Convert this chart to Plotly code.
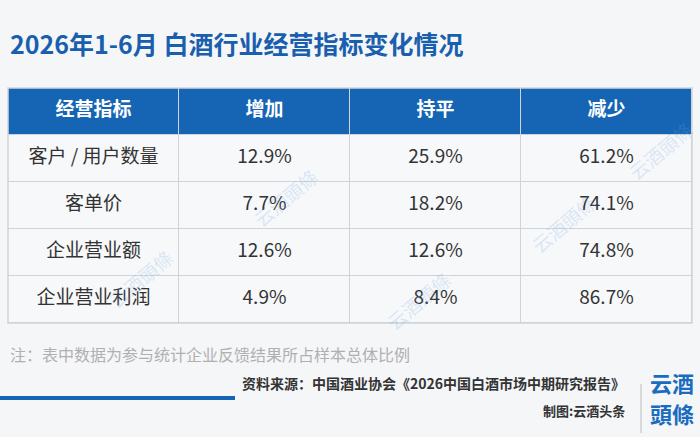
import plotly.graph_objects as go

header = ["经营指标", "增加", "持平", "减少"]
indicators = ["客户 / 用户数量", "客单价", "企业营业额", "企业营业利润"]
increase = ["12.9%", "7.7%", "12.6%", "4.9%"]
flat = ["25.9%", "18.2%", "12.6%", "8.4%"]
decrease = ["61.2%", "74.1%", "74.8%", "86.7%"]

W, H = 700, 437
blue = "#1565b4"
grid = "#cfd3da"
font = "Noto Sans CJK SC"

def py(px):
    return 1 - px / H

columns = [indicators, increase, flat, decrease]
n_rows = len(indicators) + 1
n_cols = len(header)

# cell fills: header row blue, body light
z = [[1] * n_cols] + [[0] * n_cols for _ in indicators]

# cell texts, one point per cell
tx, ty, tt, tc, tw = [], [], [], [], []
for j, h in enumerate(header):
    tx.append(j); ty.append(0); tt.append(h); tc.append("white"); tw.append("bold")
for j, col in enumerate(columns):
    for i, v in enumerate(col):
        tx.append(j); ty.append(i + 1); tt.append(v); tc.append("#333333"); tw.append("normal")

fig = go.Figure()
fig.add_trace(go.Heatmap(z=z, x=list(range(n_cols)), y=list(range(n_rows)),
                         colorscale=[[0, "#f7f8fa"], [1, blue]], zmin=0, zmax=1,
                         showscale=False, xgap=1, ygap=1, hoverinfo="skip"))
fig.add_trace(go.Scatter(x=tx, y=ty, text=tt, mode="text", textposition="middle center",
                         textfont=dict(family=font, size=19, color=tc, weight=tw),
                         hoverinfo="skip", showlegend=False))

fig.update_xaxes(domain=[8 / W, 692 / W], range=[-0.5, n_cols - 0.5], visible=False, fixedrange=True)
fig.update_yaxes(domain=[py(323), py(88)], range=[n_rows - 0.5, -0.5], visible=False, fixedrange=True)
fig.add_shape(type="rect", xref="paper", yref="paper", x0=8 / W, x1=692 / W, y0=py(323), y1=py(88),
              line=dict(color=grid, width=1.5))

# faint watermarks
for x, y in [(285, 197), (563, 223), (140, 278), (418, 300), (660, 150)]:
    fig.add_annotation(x=x / W, y=py(y), xref="paper", yref="paper", text="云酒頭條",
                       showarrow=False, textangle=-40, xanchor="center", yanchor="middle",
                       font=dict(family=font, size=19, color="rgba(110,165,225,0.22)"))

fig.add_annotation(x=8 / W, y=py(43), xref="paper", yref="paper", xanchor="left", yanchor="middle",
                   text="2026年1-6月 白酒行业经营指标变化情况", showarrow=False,
                   font=dict(family=font, size=25, color="#1a5fae", weight="bold"))
fig.add_annotation(x=8 / W, y=py(354), xref="paper", yref="paper", xanchor="left", yanchor="middle",
                   text="注：表中数据为参与统计企业反馈结果所占样本总体比例", showarrow=False,
                   font=dict(family=font, size=16, color="#b0b0b0"))
fig.add_annotation(x=627 / W, y=py(383), xref="paper", yref="paper", xanchor="right", yanchor="middle",
                   text="资料来源：中国酒业协会《2026中国白酒市场中期研究报告》", showarrow=False,
                   font=dict(family=font, size=14, color="#333333", weight="bold"))
fig.add_annotation(x=627 / W, y=py(410), xref="paper", yref="paper", xanchor="right", yanchor="middle",
                   text="制图:云酒头条", showarrow=False,
                   font=dict(family=font, size=13, color="#333333", weight="bold"))
for txt, y in [("云酒", 382), ("頭條", 413)]:
    fig.add_annotation(x=672 / W, y=py(y), xref="paper", yref="paper", xanchor="center", yanchor="middle",
                       text=txt, showarrow=False, borderpad=0,
                       font=dict(family=font, size=22, color="#1a6cc0", weight="bold"))

fig.add_shape(type="line", xref="paper", yref="paper", x0=0, x1=235 / W, y0=py(398), y1=py(398),
              line=dict(color=blue, width=4))
fig.add_shape(type="line", xref="paper", yref="paper", x0=641 / W, x1=641 / W, y0=py(384), y1=py(433),
              line=dict(color="#bbbbbb", width=1))

fig.update_layout(width=W, height=H, margin=dict(l=0, r=0, t=0, b=0),
                  paper_bgcolor="#f5f6f8", plot_bgcolor=grid)

# page body has a default 8px margin; drop it so the figure sits at the window corner
fig.write_html("out.html", config={"displayModeBar": False},
               post_script="document.body.style.margin='0';")
